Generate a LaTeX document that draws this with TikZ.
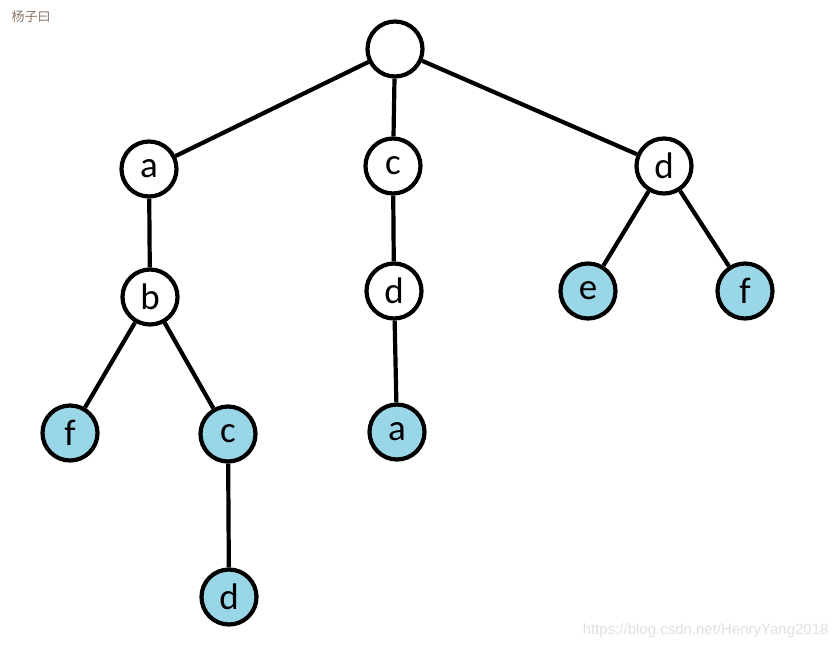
\documentclass[tikz,border=0pt]{standalone}
\usepackage{fontspec}
\setmainfont{Carlito}
\newfontfamily\cjk{Noto Sans CJK SC}
\newfontfamily\wmfont{Liberation Sans}
\definecolor{leafblue}{HTML}{99D6E8}
\definecolor{authorgray}{HTML}{8A7566}
\tikzset{
  vtx/.style={circle,draw=black,line width=4.2pt,fill=white,minimum size=55pt,inner sep=0pt,font=\fontsize{37}{37}\selectfont},
  leaf/.style={vtx,fill=leafblue},
  edge/.style={line width=4.2pt}
}
\begin{document}
\begin{tikzpicture}[x=1pt,y=-1pt]
    \useasboundingbox (0,0) rectangle (839,649);
    % nodes
    \node[vtx] (root) at (395,49) {};
    \node[vtx] (a) at (149,169) {a};
    \node[vtx] (c) at (393,166) {c};
    \node[vtx] (d) at (664,166) {d};
    \node[vtx] (b) at (150,297) {b};
    \node[vtx] (cd) at (394,291) {d};
    \node[leaf] (de) at (588,291) {e};
    \node[leaf] (df) at (745,291) {f};
    \node[leaf] (bf) at (70,433) {f};
    \node[leaf] (bc) at (228,434) {c};
    \node[leaf] (cda) at (397,432) {a};
    \node[leaf] (bcd) at (229,597) {d};
    % edges
    \draw[edge] (root) -- (a);
    \draw[edge] (root) -- (c);
    \draw[edge] (root) -- (d);
    \draw[edge] (a) -- (b);
    \draw[edge] (b) -- (bf);
    \draw[edge] (b) -- (bc);
    \draw[edge] (bc) -- (bcd);
    \draw[edge] (c) -- (cd);
    \draw[edge] (cd) -- (cda);
    \draw[edge] (d) -- (de);
    \draw[edge] (d) -- (df);
    % labels
    \node[anchor=west,text=authorgray,font=\cjk\fontsize{13}{13}\selectfont] (author) at (8,17) {杨子曰};
    \node[anchor=east,text=black!12,font=\wmfont\fontsize{15}{15}\selectfont] (mark) at (832,631) {https://blog.csdn.net/HenryYang2018};
\end{tikzpicture}
\end{document}
